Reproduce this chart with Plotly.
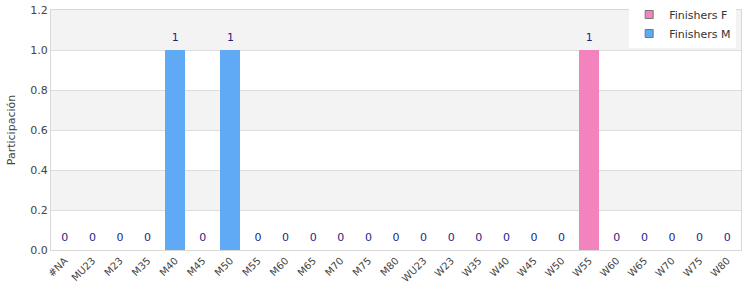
import plotly.graph_objects as go

categories = ["#NA", "MU23", "M23", "M35", "M40", "M45", "M50", "M55", "M60", "M65",
              "M70", "M75", "M80", "WU23", "W23", "W35", "W40", "W45", "W50", "W55",
              "W60", "W65", "W70", "W75", "W80"]
finishers_f = [0, 0, 0, 0, 0, 0, 0, 0, 0, 0, 0, 0, 0, 0, 0, 0, 0, 0, 0, 1, 0, 0, 0, 0, 0]
finishers_m = [0, 0, 0, 0, 1, 0, 1, 0, 0, 0, 0, 0, 0, 0, 0, 0, 0, 0, 0, 0, 0, 0, 0, 0, 0]
totals = [f + m for f, m in zip(finishers_f, finishers_m)]

FONT = "DejaVu Sans"
COL_F = "#f283bc"
COL_M = "#60a9f5"

fig = go.Figure()
fig.add_trace(go.Bar(x=categories, y=finishers_f, name="Finishers F", showlegend=False,
                     marker=dict(color=COL_F, line=dict(width=0))))
fig.add_trace(go.Bar(x=categories, y=finishers_m, name="Finishers M", showlegend=False,
                     marker=dict(color=COL_M, line=dict(width=0))))
fig.add_trace(go.Scatter(x=categories, y=totals, mode="markers+text", text=[str(t) for t in totals],
                         textposition="top center", showlegend=False, hoverinfo="skip",
                         cliponaxis=False, marker=dict(size=9, color="rgba(0,0,0,0)"),
                         textfont=dict(family=FONT, size=11, color="#1f1f8a")))
# legend entries (square swatches with grey outline)
for name, col in [("Finishers F", COL_F), ("Finishers M", COL_M)]:
    fig.add_trace(go.Scatter(x=[None], y=[None], mode="markers", name=name,
                             marker=dict(symbol="square", size=8, color=col,
                                         line=dict(color="#777", width=1))))

shapes = []
for y0 in [0.2, 0.6, 1.0]:
    shapes.append(dict(type="rect", xref="paper", yref="y", x0=0, x1=1, y0=y0, y1=y0 + 0.2,
                       fillcolor="#f3f3f3", line=dict(width=0), layer="below"))

fig.update_layout(
    width=750, height=300,
    margin=dict(l=51, r=9, t=0, b=50, autoexpand=False),
    barmode="stack", bargap=0.275,
    plot_bgcolor="white", paper_bgcolor="white",
    font=dict(family=FONT, size=11, color="#444"),
    shapes=shapes,
    legend=dict(x=0.993, xanchor="right", y=1.0, yanchor="top",
                bgcolor="white", font=dict(family=FONT, size=11, color="#333"),
                traceorder="normal", itemwidth=30, tracegroupgap=0),
    xaxis=dict(tickangle=-45, showline=True, linecolor="#d8d8d8", mirror=True, automargin=False,
               range=[-0.5, len(categories) - 0.5],
               tickfont=dict(family=FONT, size=10, color="#444"), showgrid=False),
    yaxis=dict(range=[0, 1.2], dtick=0.2, tickformat=".1f", showline=True, linecolor="#d8d8d8",
               mirror=True, gridcolor="#dddddd", zeroline=False, automargin=False,
               domain=[0, 240 / 250],
               title=dict(text="Participación", font=dict(family=FONT, size=11, color="#444"),
                          standoff=12),
               tickfont=dict(family=FONT, size=11, color="#444")),
)

fig.write_html("out.html")
